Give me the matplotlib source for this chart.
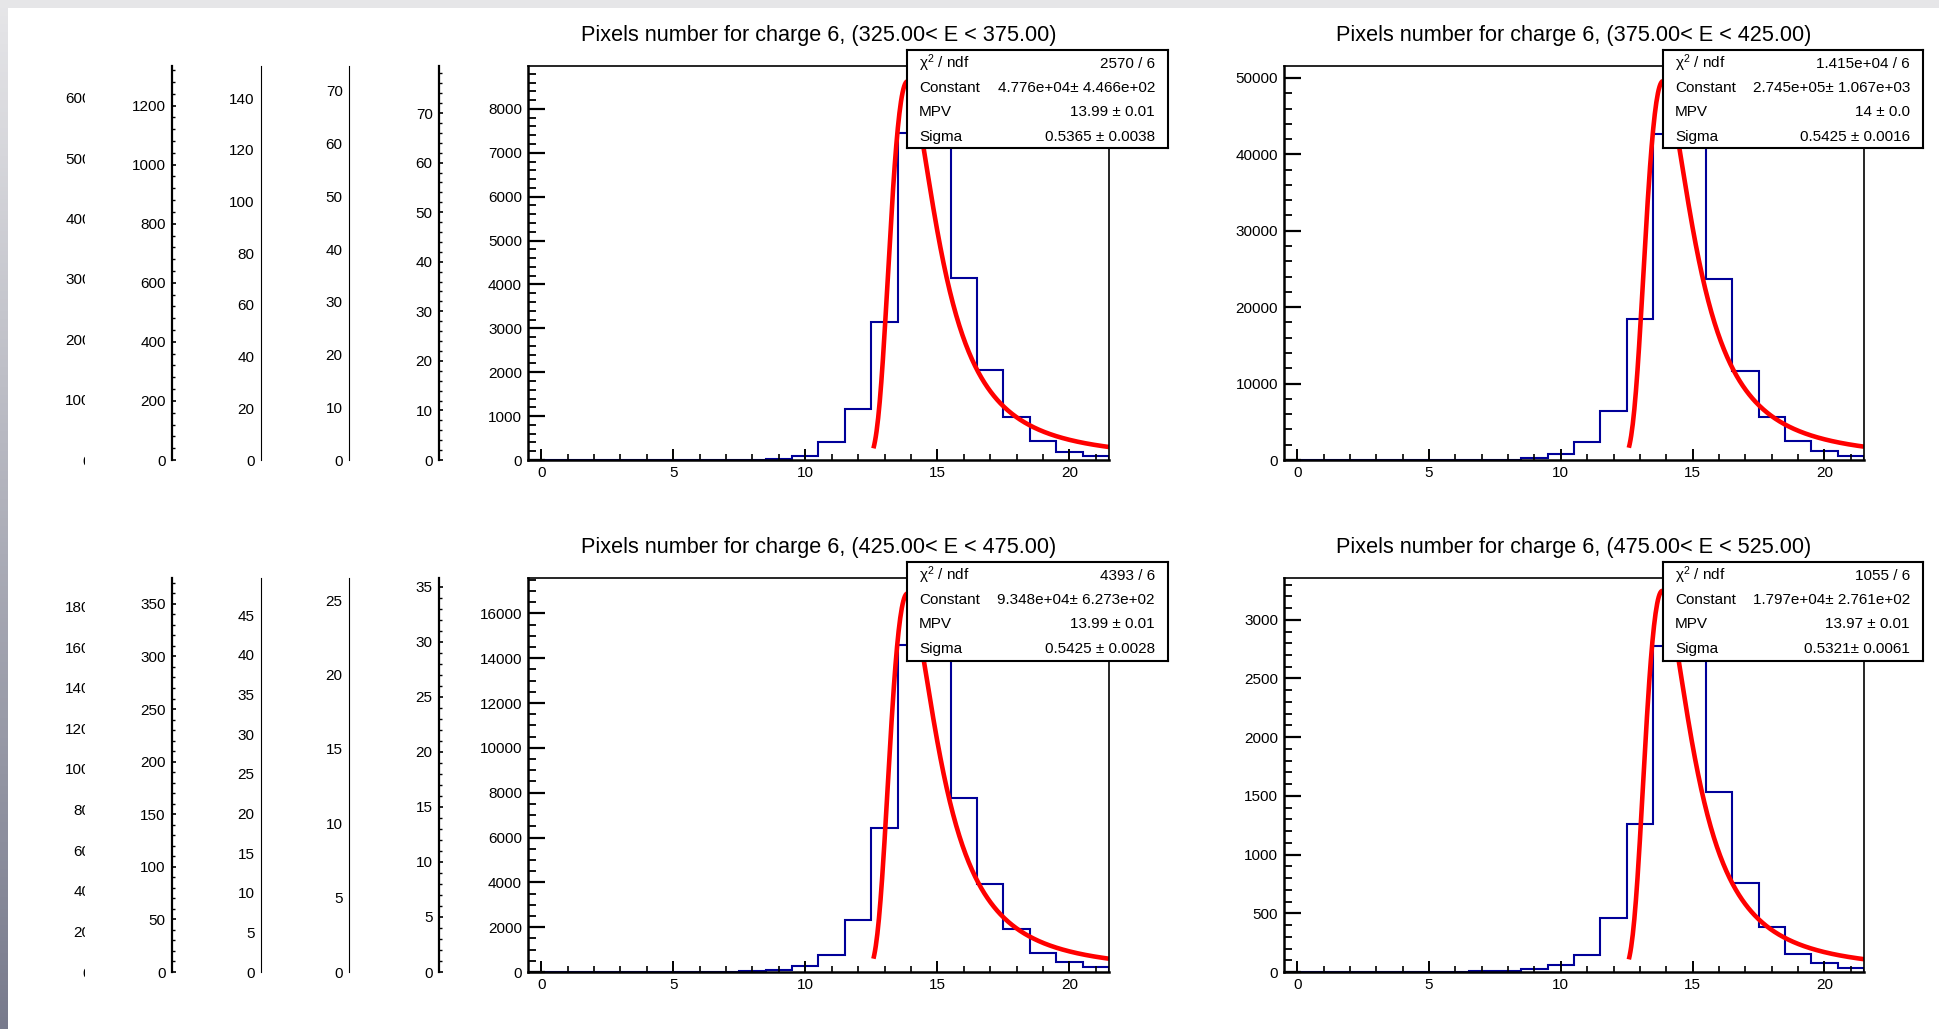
import numpy as np
import matplotlib
matplotlib.use("Agg")
import matplotlib.pyplot as plt
from matplotlib.patches import Rectangle
from matplotlib.ticker import MultipleLocator

plt.rcParams['font.family'] = ['Liberation Sans', 'DejaVu Sans']
plt.rcParams['mathtext.fontset'] = 'custom'
plt.rcParams['mathtext.rm'] = 'Liberation Sans'
plt.rcParams['mathtext.it'] = 'Liberation Sans'

# --- data ---------------------------------------------------------------
bin_edges = np.arange(-0.5, 22, 1.0)   # 22 bins centred on 0..21

e_low = ["325.00", "375.00", "425.00", "475.00"]
e_high = ["375.00", "425.00", "475.00", "525.00"]

counts_325 = [0, 0, 0, 0, 0, 0, 0, 0, 8, 30, 100, 408, 1160, 3135, 7440, 8550,
              4155, 2046, 970, 430, 185, 85]
counts_375 = [0, 0, 0, 0, 0, 0, 0, 0, 30, 220, 740, 2310, 6410, 18400, 42650, 49110,
              23640, 11640, 5670, 2530, 1220, 570]
counts_425 = [0, 0, 0, 5, 5, 10, 10, 15, 30, 90, 285, 780, 2311, 6439, 14574, 16740,
              7745, 3948, 1906, 856, 450, 210]
counts_475 = [0, 0, 3, 3, 0, 0, 0, 5, 8, 23, 58, 144, 457, 1257, 2775, 3196,
              1530, 762, 385, 155, 78, 35]
all_counts = [counts_325, counts_375, counts_425, counts_475]

# landau fit parameters (from the stat boxes)
fit_const = [4.776e4, 2.745e5, 9.348e4, 1.797e4]
fit_mpv = [13.99, 14.0, 13.99, 13.97]
fit_sigma = [0.5365, 0.5425, 0.5425, 0.5321]
fit_lo, fit_hi = 12.58, 21.5

stat_chi2 = ["2570 / 6", "1.415e+04 / 6", "4393 / 6", "1055 / 6"]
stat_const = ["4.776e+04\u00b1 4.466e+02", "2.745e+05\u00b1 1.067e+03",
              "9.348e+04\u00b1 6.273e+02", "1.797e+04\u00b1 2.761e+02"]
stat_mpv = ["13.99 \u00b1 0.01", "14 \u00b1 0.0", "13.99 \u00b1 0.01", "13.97 \u00b1 0.01"]
stat_sigma = ["0.5365 \u00b1 0.0038", "0.5425 \u00b1 0.0016",
              "0.5425 \u00b1 0.0028", "0.5321\u00b1 0.0061"]

y_major = [1000, 10000, 2000, 500]
y_minor = [200, 2000, 500, 100]

# leftover y axes of the pads hidden underneath (top row, bottom row)
ghost_top = [[653, 1334, 152.5, 74.7, 79.5], [194, 374.6, 49.7, 26.5, 35.8]]
ghost_step = [[100, 200, 20, 10, 10], [20, 50, 5, 5, 5]]

# --- layout (pixels) ----------------------------------------------------
W, H = 1940, 1029
row_top = [66, 578]
row_bot = [460, 972]
main_x = [(528, 1109), (1284, 1864)]
stat_x = [(907, 1168), (1663, 1923)]
stat_y = [(50, 148), (562, 661)]
ghost_x = [97, 172, 261, 349, 439]
ghost_thick = [False, True, False, False, True]

fig = plt.figure(figsize=(W / 100, H / 100), dpi=100)


def rect(x0, y0, x1, y1):
    return [x0 / W, 1 - y1 / H, (x1 - x0) / W, (y1 - y0) / H]


def landau(lam):
    t = np.linspace(1e-9, 35, 35001)
    return np.array([np.trapezoid(np.exp(-np.pi * t / 2) * np.cos(t * np.log(t) + l * t), t)
                     for l in lam]) / np.pi


# ghost axes
for r in range(2):
    for c in range(5):
        ax = fig.add_axes(rect(ghost_x[c], row_top[r], ghost_x[c] + 30, row_bot[r]),
                          zorder=0 if c == 0 else 1)
        ax.set_facecolor('none')
        for s in ['top', 'right', 'bottom']:
            ax.spines[s].set_visible(False)
        ax.set_xticks([])
        ax.set_ylim(0, ghost_top[r][c])
        ax.yaxis.set_major_locator(MultipleLocator(ghost_step[r][c]))
        if ghost_thick[c]:
            ax.spines['left'].set_linewidth(1.6)
            ax.yaxis.set_minor_locator(MultipleLocator(ghost_step[r][c] / 5))
            ax.tick_params(axis='y', which='major', direction='in', length=3, width=1.2)
            ax.tick_params(axis='y', which='minor', direction='in', length=1.8, width=1.0)
        else:
            ax.spines['left'].set_linewidth(0.8)
            ax.tick_params(axis='y', length=0)
        if c == 0:
            ax.spines['left'].set_visible(False)
        ax.tick_params(axis='y', labelsize=11, pad=4.5)

# white pad hiding the first column's label ends
fig.add_artist(Rectangle((84.7 / W, 0.02), 70 / W, 0.93, transform=fig.transFigure,
                         facecolor='white', edgecolor='none', zorder=0.5))

# main histograms
for i in range(4):
    r, c = divmod(i, 2)
    x0, x1 = main_x[c]
    ax = fig.add_axes(rect(x0, row_top[r], x1, row_bot[r]), zorder=2)
    ax.stairs(all_counts[i], bin_edges, color='#000099', lw=1.5)
    xf = np.linspace(fit_lo, fit_hi, 300)
    yf = fit_const[i] * landau((xf - fit_mpv[i]) / fit_sigma[i])
    ax.plot(xf, yf, color='#ff0000', lw=3.3, solid_capstyle='butt')
    ax.set_xlim(-0.5, 21.5)
    ax.set_ylim(0, 1.05 * max(all_counts[i]))
    ax.xaxis.set_major_locator(MultipleLocator(5))
    ax.xaxis.set_minor_locator(MultipleLocator(1))
    ax.yaxis.set_major_locator(MultipleLocator(y_major[i]))
    ax.yaxis.set_minor_locator(MultipleLocator(y_minor[i]))
    ax.tick_params(axis='x', which='major', direction='in', length=8, width=1.4,
                   labelsize=11, pad=4)
    ax.tick_params(axis='x', which='minor', direction='in', length=4, width=1.2)
    ax.tick_params(axis='y', which='major', direction='in', length=12.5, width=1.6,
                   labelsize=11, pad=4.3)
    ax.tick_params(axis='y', which='minor', direction='in', length=6, width=1.3)
    ax.spines['left'].set_linewidth(1.8)
    ax.spines['bottom'].set_linewidth(1.8)
    ax.spines['top'].set_linewidth(1.2)
    ax.spines['right'].set_linewidth(1.2)

    fig.text((x0 + x1) / 2 / W, 1 - (row_top[r] - 30) / H,
             f"Pixels number for charge 6, ({e_low[i]}< E < {e_high[i]})",
             ha='center', va='center', fontsize=15.6)

    # stat box
    sx0, sx1 = stat_x[c]
    sy0, sy1 = stat_y[r]
    sb = fig.add_axes(rect(sx0, sy0, sx1, sy1), zorder=5)
    sb.set_xticks([])
    sb.set_yticks([])
    sb.set_facecolor('white')
    for s in sb.spines.values():
        s.set_linewidth(1.5)
    bh = sy1 - sy0
    bw = sx1 - sx0
    rows = [("\u03c7$^{2}$ / ndf", stat_chi2[i]), ("Constant", stat_const[i]),
            ("MPV", stat_mpv[i]), ("Sigma", stat_sigma[i])]
    for k, (lab, val) in enumerate(rows):
        yy = 1 - (13.5 + 24.5 * k) / bh
        sb.text(12 / bw, yy, lab, ha='left', va='center', fontsize=11, transform=sb.transAxes)
        sb.text(1 - 13 / bw, yy, val, ha='right', va='center', fontsize=11,
                transform=sb.transAxes)

# window border strips
fig.add_artist(Rectangle((0, 1 - 8 / H), 1, 8 / H, transform=fig.transFigure,
                         facecolor='#e6e6e8', edgecolor='none', zorder=10))
gax = fig.add_axes(rect(0, 8, 8, H), zorder=10)
grad = np.linspace(0, 1, 256)[:, None, None]
top_c = np.array([0.90, 0.90, 0.91])
bot_c = np.array([0.47, 0.48, 0.55])
gax.imshow(top_c + (bot_c - top_c) * grad, aspect='auto', extent=[0, 1, 1, 0])
gax.axis('off')

fig.savefig("out.png", dpi=100)
